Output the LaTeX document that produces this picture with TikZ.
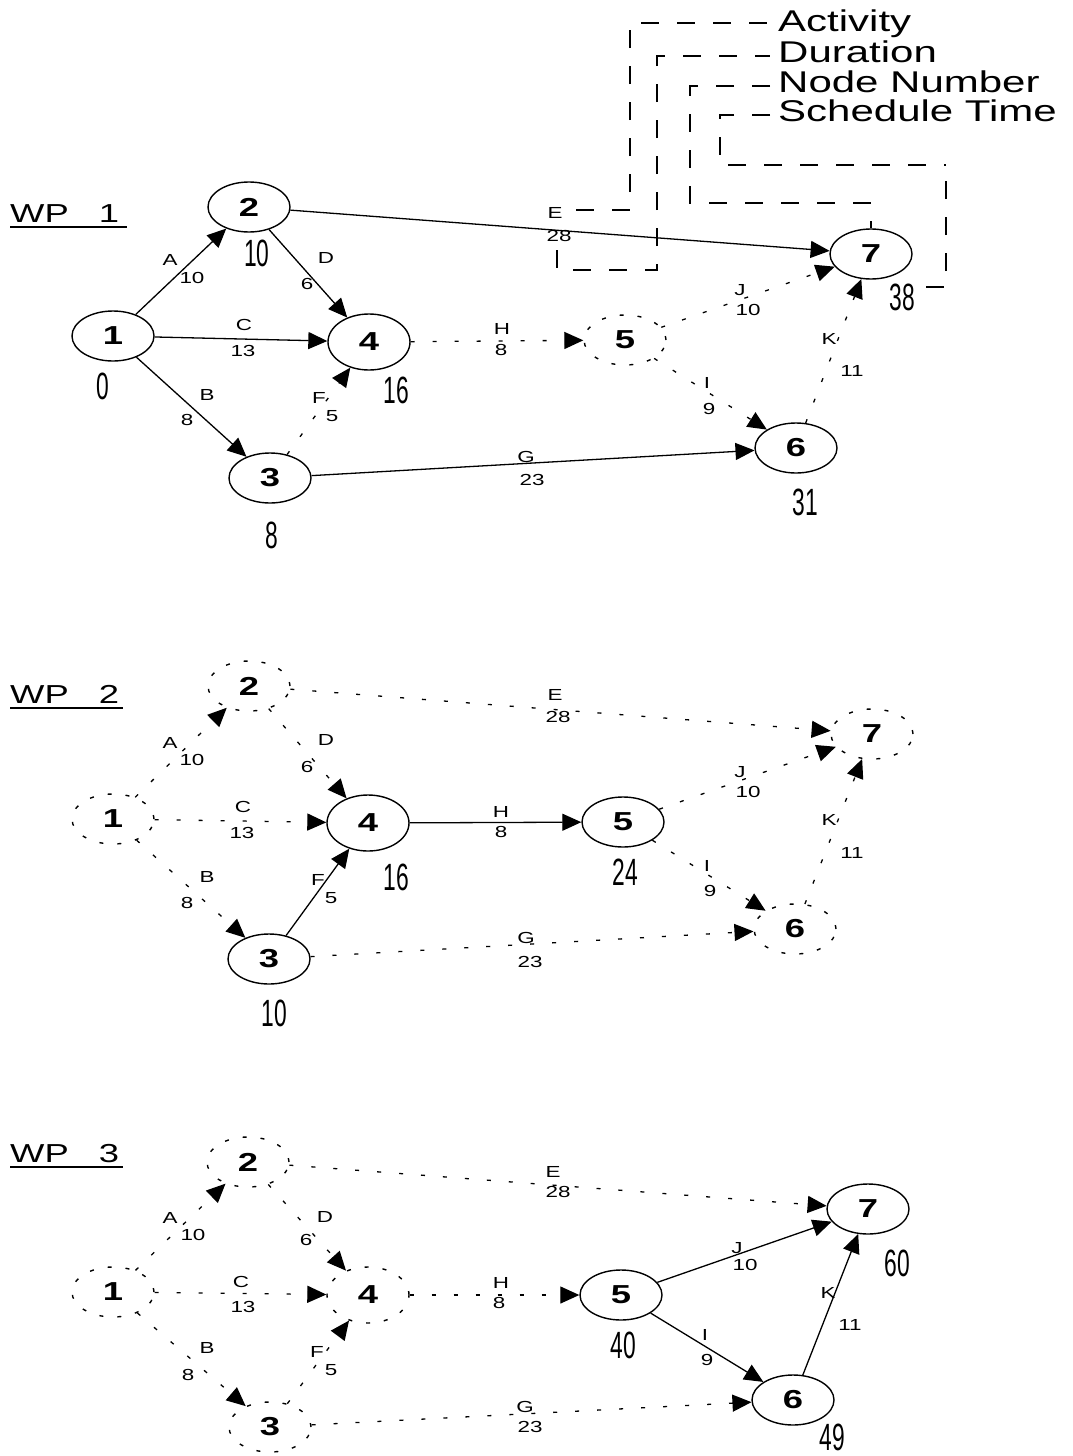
\documentclass[tikz,border=0pt]{standalone}
\usepackage{fontspec}
\setmainfont{Liberation Sans}
\newfontfamily\widefont[FakeStretch=1.4]{Liberation Sans}
\newfontfamily\narrowfont[FakeStretch=0.6]{Liberation Sans}
\usetikzlibrary{arrows.meta,shapes.geometric}
\tikzset{
 ev/.style={ellipse, draw, line width=1.4pt, minimum width=82pt, minimum height=50pt, inner sep=0pt, font=\widefont\bfseries\fontsize{26}{26}\selectfont},
 evd/.style={ev, dash pattern=on 4pt off 14pt},
 act/.style={line width=1.3pt, -{Triangle[length=19pt,width=17pt]}},
 actd/.style={act, dash pattern=on 4pt off 18pt},
 elab/.style={font=\widefont\fontsize{16}{16}\selectfont, inner sep=0pt},
 stime/.style={font=\narrowfont\fontsize{38}{38}\selectfont, inner sep=0pt},
 leg/.style={line width=1.3pt, dash pattern=on 18pt off 18pt},
 legtext/.style={anchor=base west, font=\widefont\fontsize{30}{30}\selectfont, inner sep=0pt},
 wp/.style={anchor=base west, font=\widefont\fontsize{26}{26}\selectfont, inner sep=0pt},
 uline/.style={line width=1.6pt}
}
\newcommand{\el}[4]{\node[elab] (#1) at (#2,#3) {#4};}
\begin{document}
\begin{tikzpicture}[x=1pt,y=-1pt]
\fill[white] (0,0) rectangle (1072,1456);
\path[use as bounding box] (0,0) rectangle (1072,1456);

% ---------------- legend
\node[legtext] (lgA) at (778,31) {Activity};
\node[legtext] (lgD) at (778,62) {Duration};
\node[legtext] (lgN) at (778,92) {Node Number};
\node[legtext] (lgS) at (778,121) {Schedule Time};

% ================= WP 1
\begin{scope}
\node[wp] (wp1) at (10,222) {WP\hspace{30pt}1};
\draw[uline] ([yshift=-5pt]wp1.base west) -- ([xshift=8pt,yshift=-5pt]wp1.base east);
\node[ev] (n1a) at (113,336) {1};
\node[ev] (n2a) at (249,207) {2};
\node[ev] (n3a) at (270,478) {3};
\node[ev,minimum height=56pt] (n4a) at (369,342) {4};
\node[evd] (n5a) at (625,340) {5};
\node[ev] (n6a) at (796,448) {6};
\node[ev] (n7a) at (871,254) {7};
\draw[act] (n1a) -- (n2a);
\draw[act] (n2a) -- (n4a);
\draw[act] (n1a) -- (n4a);
\draw[act] (n1a) -- (n3a);
\draw[actd] (n3a) -- (n4a);
\draw[act] (n3a) -- (n6a);
\draw[act] (n2a) -- (n7a);
\draw[actd] (n4a) -- (n5a);
\draw[actd] (n5a) -- (n7a);
\draw[actd] (n5a) -- (n6a);
\draw[actd] (n6a) -- (n7a);
\el{la1}{170}{260}{A}\el{la2}{192}{278}{10}
\el{ld1}{326}{258}{D}\el{ld2}{307}{284}{6}
\el{lc1}{244}{325}{C}\el{lc2}{243}{351}{13}
\el{lb1}{207}{395}{B}\el{lb2}{187}{420}{8}
\el{lf1}{319}{398}{F}\el{lf2}{332}{416}{5}
\el{lh1}{502}{329}{H}\el{lh2}{501}{350}{8}
\el{lg1}{526}{457}{G}\el{lg2}{532}{480}{23}
\el{le1}{555}{213}{E}\el{le2}{559}{236}{28}
\el{lj1}{740}{290}{J}\el{lj2}{748}{310}{10}
\el{li1}{707}{383}{I}\el{li2}{709}{409}{9}
\el{lk1}{829}{339}{K}\el{lk2}{852}{371}{11}
\node[stime] (t2a) at (257,253) {10};
\node[stime] (t1a) at (103,386) {0};
\node[stime] (t4a) at (396,390) {16};
\node[stime] (t3a) at (272,535) {8};
\node[stime] (t7a) at (902,297) {38};
\node[stime] (t6a) at (805,502) {31};
\end{scope}

% legend connectors
\coordinate (ca1) at (576,210);
\coordinate (cd1) at (557,250);
\coordinate (cs1) at (926,287);
\coordinate (la) at (770,23);
\coordinate (ld) at (770,56);
\coordinate (ln) at (770,86);
\coordinate (ls) at (770,115);
\coordinate (cs2) at (946,165);
\draw[leg] (ca1) -- (630,210) -- (630,23) -- (la);
\draw[leg] (cd1) -- (557,270) -- (657,270) -- (657,56) -- (ld);
\draw[leg] (ln) -- (690,86) -- (690,203) -- (n7a.north |- 0,203) -- (n7a.north);
\draw[leg] (ls) -- (720,115) -- (720,165) -- (cs2);
\draw[leg] (cs1) -- (946,287) -- (cs2);

% ================= WP 2
\begin{scope}[yshift=-481pt]
\node[wp] (wp2) at (10,222) {WP\hspace{30pt}2};
\draw[uline] ([yshift=-5pt]wp2.base west) -- ([xshift=4pt,yshift=-5pt]wp2.base east);
\node[evd] (n1b) at (113,338) {1};
\node[evd] (n2b) at (249,205) {2};
\node[ev] (n3b) at (269,478) {3};
\node[ev,minimum height=56pt] (n4b) at (368,342) {4};
\node[ev] (n5b) at (623,341) {5};
\node[evd] (n6b) at (795,448) {6};
\node[evd] (n7b) at (872,253) {7};
\draw[actd] (n1b) -- (n2b);
\draw[actd] (n2b) -- (n4b);
\draw[actd] (n1b) -- (n4b);
\draw[actd] (n1b) -- (n3b);
\draw[act] (n3b) -- (n4b);
\draw[actd] (n3b) -- (n6b);
\draw[actd] (n2b) -- (n7b);
\draw[act] (n4b) -- (n5b);
\draw[actd] (n5b) -- (n7b);
\draw[actd] (n5b) -- (n6b);
\draw[actd] (n6b) -- (n7b);
\el{la1b}{170}{262}{A}\el{la2b}{192}{279}{10}
\el{ld1b}{326}{259}{D}\el{ld2b}{307}{286}{6}
\el{lc1b}{243}{326}{C}\el{lc2b}{242}{352}{13}
\el{lb1b}{207}{396}{B}\el{lb2b}{187}{422}{8}
\el{lf1b}{318}{399}{F}\el{lf2b}{331}{417}{5}
\el{lh1b}{501}{331}{H}\el{lh2b}{501}{351}{8}
\el{lg1b}{526}{457}{G}\el{lg2b}{530}{481}{23}
\el{le1b}{555}{214}{E}\el{le2b}{558}{236}{28}
\el{lj1b}{740}{291}{J}\el{lj2b}{748}{311}{10}
\el{li1b}{707}{385}{I}\el{li2b}{710}{410}{9}
\el{lk1b}{829}{339}{K}\el{lk2b}{852}{372}{11}
\node[stime] (t4b) at (396,396) {16};
\node[stime] (t3b) at (274,532) {10};
\node[stime] (t5b) at (625,391) {24};
\end{scope}

% ================= WP 3
\begin{scope}[yshift=-955pt]
\node[wp] (wp3) at (10,207) {WP\hspace{30pt}3};
\draw[uline] ([yshift=-5pt]wp3.base west) -- ([xshift=4pt,yshift=-5pt]wp3.base east);
\node[evd] (n1c) at (113,337) {1};
\node[evd] (n2c) at (248,207) {2};
\node[evd] (n3c) at (270,472) {3};
\node[evd,minimum height=56pt] (n4c) at (368,340) {4};
\node[ev] (n5c) at (621,340) {5};
\node[ev] (n6c) at (793,445) {6};
\node[ev] (n7c) at (868,254) {7};
\draw[actd] (n1c) -- (n2c);
\draw[actd] (n2c) -- (n4c);
\draw[actd] (n1c) -- (n4c);
\draw[actd] (n1c) -- (n3c);
\draw[actd] (n3c) -- (n4c);
\draw[actd] (n3c) -- (n6c);
\draw[actd] (n2c) -- (n7c);
\draw[actd] (n4c) -- (n5c);
\draw[act] (n5c) -- (n7c);
\draw[act] (n5c) -- (n6c);
\draw[act] (n6c) -- (n7c);
\el{la1c}{170}{263}{A}\el{la2c}{193}{280}{10}
\el{ld1c}{325}{262}{D}\el{ld2c}{306}{285}{6}
\el{lc1c}{241}{327}{C}\el{lc2c}{243}{352}{13}
\el{lb1c}{207}{393}{B}\el{lb2c}{188}{420}{8}
\el{lf1c}{317}{397}{F}\el{lf2c}{331}{415}{5}
\el{lh1c}{501}{328}{H}\el{lh2c}{499}{348}{8}
\el{lg1c}{525}{452}{G}\el{lg2c}{530}{472}{23}
\el{le1c}{553}{217}{E}\el{le2c}{558}{237}{28}
\el{lj1c}{737}{293}{J}\el{lj2c}{745}{310}{10}
\el{li1c}{705}{380}{I}\el{li2c}{707}{405}{9}
\el{lk1c}{828}{338}{K}\el{lk2c}{850}{370}{11}
\node[stime] (t5c) at (623,390) {40};
\node[stime] (t7c) at (897,308) {60};
\node[stime] (t6c) at (832,482) {49};
\end{scope}
\end{tikzpicture}
\end{document}
